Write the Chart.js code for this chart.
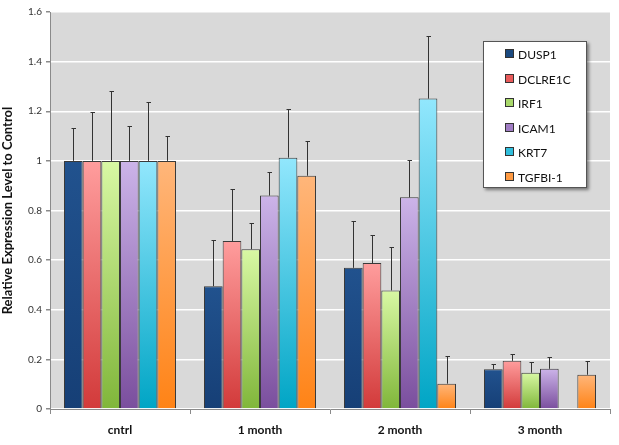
<!DOCTYPE html>
<html>
<head>
<meta charset="utf-8">
<script src="https://cdn.jsdelivr.net/npm/chart.js@4.4.1/dist/chart.umd.min.js"></script>
<style>
  html, body { margin: 0; padding: 0; background: #fff; }
  #wrap { position: relative; width: 619px; height: 445px; }
  #legend {
    position: absolute; left: 483px; top: 41px; width: 102px; height: 145px;
    background: #fff; border: 1px solid #555; box-shadow: 2px 2px 3px rgba(0,0,0,0.45);
    font-family: Lato, "Open Sans", sans-serif; font-size: 12px; color: #111;
  }
  #legend div { position: absolute; left: 21px; height: 14px; line-height: 14px; }
  #legend span { display: inline-block; width: 7px; height: 7px; border: 1px solid #333; margin-right: 4px; vertical-align: 1px; }
</style>
</head>
<body>
<div id="wrap">
  <canvas id="chart" width="619" height="445"></canvas>
  <div id="legend"></div>
</div>
<script>
// data
const categories = ["cntrl", "1 month", "2 month", "3 month"];
const genes = ["DUSP1", "DCLRE1C", "IRF1", "ICAM1", "KRT7", "TGFBI-1"];

const dusp1 = [1, 0.495, 0.569, 0.160];
const dclre1c = [1, 0.677, 0.588, 0.194];
const irf1 = [1, 0.644, 0.478, 0.146];
const icam1 = [1, 0.860, 0.853, 0.162];
const krt7 = [1, 1.013, 1.251, null];
const tgfbi1 = [1, 0.940, 0.102, 0.138];

// upper error (added on top of the bar)
const dusp1Err = [0.134, 0.188, 0.188, 0.021];
const dclre1cErr = [0.197, 0.211, 0.114, 0.027];
const irf1Err = [0.283, 0.107, 0.173, 0.044];
const icam1Err = [0.139, 0.095, 0.152, 0.046];
const krt7Err = [0.239, 0.197, 0.252, null];
const tgfbi1Err = [0.102, 0.140, 0.112, 0.056];

const yTicks = [0, 0.2, 0.4, 0.6, 0.8, 1, 1.2, 1.4, 1.6];

const values = [dusp1, dclre1c, irf1, icam1, krt7, tgfbi1];
const errors = [dusp1Err, dclre1cErr, irf1Err, icam1Err, krt7Err, tgfbi1Err];

// colours: [top, bottom]
const shades = [
    ["#21528e", "#163f76"],
    ["#ff9d9d", "#d23a3a"],
    ["#d8f8a4", "#80b63a"],
    ["#ccb4e9", "#7a4e9d"],
    ["#92e7fd", "#00a5c5"],
    ["#ffb67a", "#ff8316"],
];
const swatch = ["#1b4a80", "#e85a5a", "#a8d86a", "#a07cc4", "#30bedc", "#ff9a42"];

const barFill = (i) => (ctx) => {
    const chart = ctx.chart;
    const v = ctx.raw;
    if (!chart.chartArea || v == null) return shades[i][1];
    const y = chart.scales.y;
    const top = y.getPixelForValue(v);
    const bottom = y.getPixelForValue(0);
    const g = chart.ctx.createLinearGradient(0, top, 0, bottom);
    g.addColorStop(0, shades[i][0]);
    g.addColorStop(1, shades[i][1]);
    return g;
};

// plot background
const plotBg = {
    id: "plotBg",
    beforeDraw(chart) {
        const { ctx, chartArea: a } = chart;
        ctx.save();
        ctx.fillStyle = "#d9d9d9";
        ctx.fillRect(a.left, a.top, a.right - a.left, a.bottom - a.top);
        ctx.restore();
    },
};

// error bars (upper only)
const errorBars = {
    id: "errorBars",
    afterDatasetsDraw(chart) {
        const { ctx } = chart;
        const y = chart.scales.y;
        ctx.save();
        ctx.strokeStyle = "#333";
        ctx.lineWidth = 1;
        chart.data.datasets.forEach((ds, di) => {
            const meta = chart.getDatasetMeta(di);
            meta.data.forEach((bar, i) => {
                const v = ds.data[i];
                const e = errors[di][i];
                if (v == null || e == null) return;
                const x = Math.round(bar.x) + 0.5;
                const yTop = Math.round(y.getPixelForValue(v + e)) + 0.5;
                const yBar = y.getPixelForValue(v);
                ctx.beginPath();
                ctx.moveTo(x, yBar);
                ctx.lineTo(x, yTop);
                ctx.moveTo(x - 2, yTop);
                ctx.lineTo(x + 2.5, yTop);
                ctx.stroke();
            });
        });
        ctx.restore();
    },
};

new Chart(document.getElementById("chart"), {
    type: "bar",
    data: {
        labels: categories,
        datasets: genes.map((g, i) => ({
            label: g,
            data: values[i],
            backgroundColor: barFill(i),
            borderColor: "#3a3a3a",
            borderWidth: 1,
            categoryPercentage: 0.8,
            barPercentage: 1,
        })),
    },
    options: {
        responsive: false,
        animation: false,
        layout: { padding: { top: 12, right: 9, left: 0, bottom: 0 } },
        plugins: {
            legend: { display: false },
            tooltip: { enabled: false },
        },
        scales: {
            x: {
                grid: {
                    display: true,
                    offset: true,
                    drawOnChartArea: false,
                    tickLength: 5,
                    tickColor: "#8a8a8a",
                },
                border: { color: "#8a8a8a" },
                ticks: {
                    color: "#111",
                    padding: 9,
                    font: { family: "Lato, 'Open Sans', sans-serif", size: 12, weight: "bold" },
                },
                afterFit: (s) => { s.height = 36; },
            },
            y: {
                min: 0,
                max: 1.6,
                afterBuildTicks: (s) => { s.ticks = yTicks.map((v) => ({ value: v })); },
                grid: { color: "#fff", lineWidth: 1.5, tickColor: "#8a8a8a", tickLength: 4 },
                border: { color: "#8a8a8a" },
                ticks: {
                    color: "#333",
                    padding: 4,
                    font: { family: "Lato, 'Open Sans', sans-serif", size: 10 },
                    callback: (v) => String(+Number(v).toFixed(1)),
                },
                title: {
                    display: true,
                    text: "Relative Expression Level to Control",
                    color: "#111",
                    padding: { top: 0, bottom: 4 },
                    font: { family: "Lato, 'Open Sans', sans-serif", size: 13, weight: "bold" },
                },
                afterFit: (s) => { s.width = 50; },
            },
        },
    },
    plugins: [plotBg, errorBars],
});

// legend
const legendBox = document.getElementById("legend");
genes.forEach((g, i) => {
    const row = document.createElement("div");
    row.style.top = (6 + i * 24.5) + "px";
    row.innerHTML = `<span style="background:${swatch[i]}"></span>${g}`;
    legendBox.appendChild(row);
});
</script>
</body>
</html>
